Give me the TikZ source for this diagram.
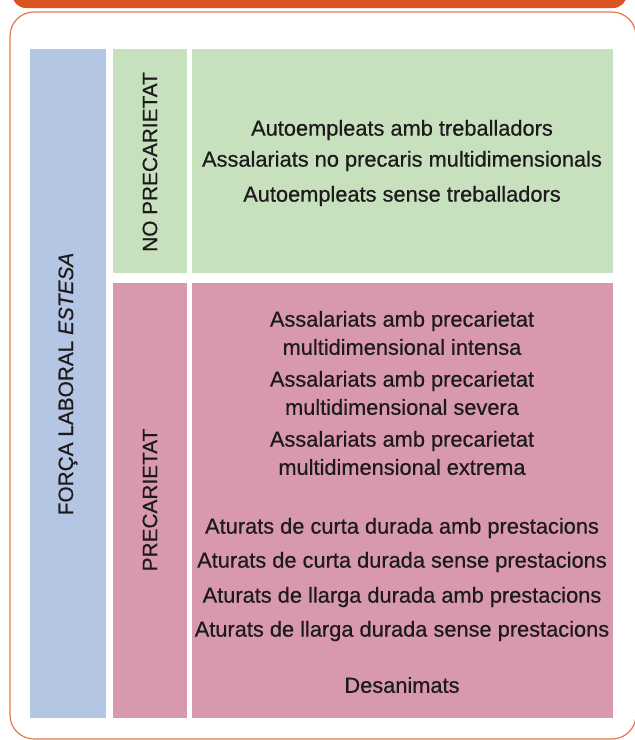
\documentclass[tikz,border=0pt]{standalone}
\usepackage{fontspec}
\setmainfont{Liberation Sans}
\newfontfamily\medfont{Liberation Sans}[FakeBold=0.6]
\definecolor{bandor}{HTML}{DB5420}
\definecolor{frameor}{HTML}{E3794F}
\definecolor{cblue}{HTML}{B4C6E4}
\definecolor{cgreen}{HTML}{C7E1BF}
\definecolor{cpink}{HTML}{D999AD}
\definecolor{txt}{HTML}{1E1A1B}
\begin{document}
\begin{tikzpicture}[x=1pt,y=-1pt,
  item/.style={text=txt, font=\medfont\fontsize{21.8}{24}\selectfont, inner sep=0pt, anchor=center},
  vlab/.style={text=txt, font=\medfont\fontsize{20.8}{24}\selectfont, inner sep=0pt, rotate=90, anchor=center}]
\useasboundingbox (0,0) rectangle (635,740);
% orange band
\fill[bandor, rounded corners=14pt] (12,-20) rectangle (627,8);
% frame
\draw[frameor, line width=1.2pt, rounded corners=24pt] (10,12) rectangle (636,739);
% cells
\fill[cblue] (30,49) rectangle (106,718);
\fill[cgreen] (113,49) rectangle (187,273);
\fill[cgreen] (192,49) rectangle (613,273);
\fill[cpink] (113,283) rectangle (187,718);
\fill[cpink] (192,283) rectangle (613,718);
% vertical labels
\node[vlab] (flab) at (68,384) {FORÇA LABORAL \textit{ESTESA}};
\node[vlab] (nplab) at (150,162) {NO PRECARIETAT};
\node[vlab] (plab) at (150,500) {PRECARIETAT};
% green items
\node[item] (g1) at (402,130) {Autoempleats amb treballadors};
\node[item] (g2) at (402,161) {Assalariats no precaris multidimensionals};
\node[item] (g3) at (402,196) {Autoempleats sense treballadors};
% pink items
\node[item] (p1a) at (402,321) {Assalariats amb precarietat};
\node[item] (p1b) at (402,347) {multidimensional intensa};
\node[item] (p2a) at (402,381) {Assalariats amb precarietat};
\node[item] (p2b) at (402,407) {multidimensional severa};
\node[item] (p3a) at (402,441) {Assalariats amb precarietat};
\node[item] (p3b) at (402,467) {multidimensional extrema};
\node[item] (p4) at (402,528) {Aturats de curta durada amb prestacions};
\node[item] (p5) at (402,562) {Aturats de curta durada sense prestacions};
\node[item] (p6) at (402,597) {Aturats de llarga durada amb prestacions};
\node[item] (p7) at (402,631) {Aturats de llarga durada sense prestacions};
\node[item] (p8) at (402,685) {Desanimats};
\end{tikzpicture}
\end{document}
